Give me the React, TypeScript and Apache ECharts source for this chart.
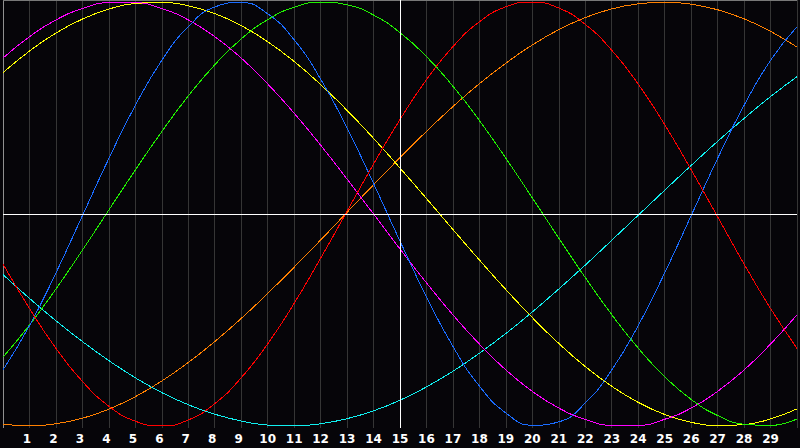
import React, { useEffect, useRef } from 'react';
import * as echarts from 'echarts';

// days along the bottom axis (0 and 30 are the plot edges, not labelled)
const days = [
  '0', '1', '2', '3', '4', '5', '6', '7', '8', '9', '10',
  '11', '12', '13', '14', '15', '16', '17', '18', '19', '20',
  '21', '22', '23', '24', '25', '26', '27', '28', '29', '30',
];

const red = [
  -0.236, -0.446, -0.634, -0.79, -0.907, -0.978, -1.0, -0.972, -0.895, -0.773, -0.613,
  -0.422, -0.209, 0.013, 0.236, 0.446, 0.634, 0.79, 0.907, 0.978, 1.0,
  0.972, 0.895, 0.773, 0.613, 0.422, 0.209, -0.013, -0.236, -0.446, -0.634,
];
const green = [
  -0.676, -0.524, -0.354, -0.171, 0.019, 0.208, 0.389, 0.557, 0.704, 0.826, 0.917,
  0.976, 1.0, 0.987, 0.939, 0.856, 0.743, 0.603, 0.441, 0.263, 0.076,
  -0.114, -0.3, -0.475, -0.633, -0.768, -0.875, -0.951, -0.992, -0.998, -0.967,
];
const blue = [
  -0.736, -0.527, -0.278, -0.008, 0.262, 0.513, 0.725, 0.884, 0.977, 0.998, 0.945,
  0.822, 0.637, 0.406, 0.144, -0.128, -0.391, -0.625, -0.812, -0.939, -0.997,
  -0.981, -0.892, -0.736, -0.527, -0.278, -0.008, 0.262, 0.513, 0.725, 0.884,
];
const orange = [
  -0.992, -1.0, -0.99, -0.964, -0.921, -0.862, -0.788, -0.701, -0.602, -0.493, -0.375,
  -0.251, -0.123, 0.008, 0.138, 0.266, 0.39, 0.507, 0.615, 0.712, 0.798,
  0.87, 0.927, 0.968, 0.992, 1.0, 0.99, 0.964, 0.921, 0.862, 0.788,
];
const magenta = [
  0.736, 0.837, 0.916, 0.969, 0.997, 0.997, 0.969, 0.916, 0.837, 0.736, 0.614,
  0.476, 0.325, 0.165, 0.0, -0.165, -0.325, -0.476, -0.614, -0.736, -0.837,
  -0.916, -0.969, -0.997, -0.997, -0.969, -0.916, -0.837, -0.736, -0.614, -0.476,
];
const yellow = [
  0.667, 0.769, 0.854, 0.92, 0.967, 0.994, 0.999, 0.983, 0.946, 0.889, 0.813,
  0.72, 0.611, 0.489, 0.357, 0.217, 0.073, -0.073, -0.217, -0.357, -0.489,
  -0.611, -0.72, -0.813, -0.889, -0.946, -0.983, -0.999, -0.994, -0.967, -0.92,
];
const cyan = [
  -0.286, -0.398, -0.504, -0.602, -0.692, -0.773, -0.843, -0.9, -0.945, -0.977, -0.996,
  -1.0, -0.99, -0.966, -0.929, -0.879, -0.816, -0.742, -0.657, -0.564, -0.462,
  -0.354, -0.241, -0.124, -0.006, 0.112, 0.229, 0.343, 0.451, 0.554, 0.648,
];

const curves = [
  { name: 'orange', data: orange, color: '#ff8000' },
  { name: 'cyan', data: cyan, color: '#10f0f0' },
  { name: 'yellow', data: yellow, color: '#ffff00' },
  { name: 'magenta', data: magenta, color: '#ff00ff' },
  { name: 'green', data: green, color: '#20f000' },
  { name: 'blue', data: blue, color: '#1a6cff' },
  { name: 'red', data: red, color: '#ff0000' },
];

const labelFont = { color: '#ffffff', fontFamily: 'DejaVu Sans', fontWeight: 'bold' as const, fontSize: 12 };

export default function App() {
  const chartRef = useRef<HTMLDivElement>(null);

  useEffect(() => {
    if (!chartRef.current) return;
    const chart = echarts.init(chartRef.current, undefined, { renderer: 'svg' });

    const option: echarts.EChartsOption = {
      animation: false,
      backgroundColor: '#060509',
      grid: { left: 0, right: 0, top: 0, bottom: 20, containLabel: false },
      xAxis: [
        {
          type: 'category',
          data: days,
          boundaryGap: false,
          axisLine: { show: true, lineStyle: { color: '#a8a8a8', width: 1 } },
          axisTick: { show: false },
          splitLine: { show: true, interval: 0, lineStyle: { color: '#353535', width: 1 } },
          axisLabel: {
            interval: 0,
            showMinLabel: false,
            showMaxLabel: false,
            margin: 5,
            ...labelFont,
            formatter: (v: string) =>
              v === '0' || v === '30' ? '' : v.length === 1 ? `{s|${v}}` : `{d|${v}}`,
            rich: {
              s: { ...labelFont, padding: [0, 5, 0, 0] },
              d: { ...labelFont },
            },
          },
        },
        {
          type: 'category',
          data: days,
          position: 'top',
          boundaryGap: false,
          axisLine: { show: true, lineStyle: { color: '#787878', width: 1 } },
          axisTick: { show: false },
          axisLabel: { show: false },
          splitLine: { show: false },
        },
      ],
      yAxis: {
        type: 'value',
        min: -1.01,
        max: 1.01,
        axisLine: { show: true, onZero: false, lineStyle: { color: '#909090', width: 1 } },
        axisTick: { show: false },
        axisLabel: { show: false },
        splitLine: { show: false },
      },
      series: [
        {
          type: 'line',
          data: [],
          silent: true,
          markLine: {
            silent: true,
            symbol: 'none',
            label: { show: false },
            lineStyle: { color: '#ffffff', width: 1, type: 'solid' },
            data: [{ xAxis: '15' }, { yAxis: 0 }],
          },
        },
        ...curves.map((c) => ({
          name: c.name,
          type: 'line' as const,
          data: c.data,
          smooth: true,
          showSymbol: false,
          symbol: 'none',
          lineStyle: { color: c.color, width: 1 },
          itemStyle: { color: c.color },
        })),
      ],
    };

    chart.setOption(option);
    return () => chart.dispose();
  }, []);

  return (
    <>
      <style>{'.bio svg path, .bio svg line { shape-rendering: crispEdges; }'}</style>
      <div
        ref={chartRef}
        className="bio"
        style={{ position: 'fixed', left: 0, top: 0, width: 800, height: 448 }}
      />
    </>
  );
}
